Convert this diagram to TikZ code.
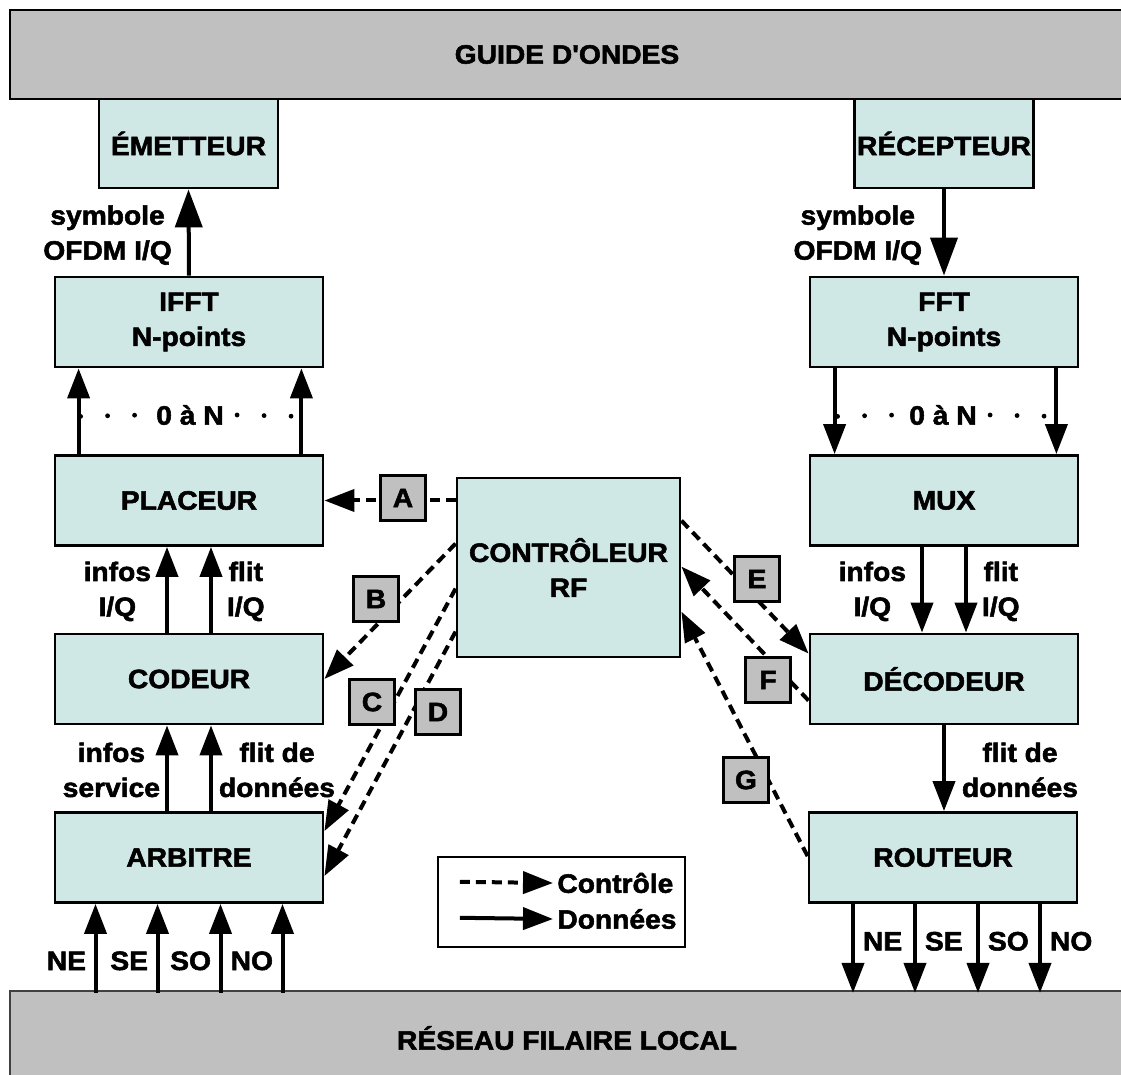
\documentclass[tikz,border=0pt]{standalone}
\usepackage{fontspec}
\setmainfont{Liberation Sans}[Ligatures=TeXOff,BoldFeatures={FakeBold=2,FakeStretch=1.06}]
\usetikzlibrary{arrows.meta,calc}
\definecolor{boite}{HTML}{CFE7E5}
\definecolor{gris}{HTML}{C0C0C0}

\begin{document}
\begin{tikzpicture}[x=0.5pt,y=-0.5pt,
                    font=\bfseries\fontsize{13.3}{17.5}\selectfont]
\useasboundingbox (0,0) rectangle (1121,1075);
\begin{scope}[every node/.style={rectangle,draw=black,line width=1.4pt,fill=boite,
              minimum width=134pt,minimum height=45pt,align=center,inner sep=0pt}]
    \node (guide) [fill=gris,minimum width=557pt,minimum height=44.5pt] at (567,54.5) {GUIDE D'ONDES};
    \node (reseau) [fill=gris,draw=black!75,line width=1pt,minimum width=557pt,minimum height=47pt] at (567,1038) {RÉSEAU FILAIRE LOCAL};
    \node (emet) [minimum width=89.5pt,minimum height=44.5pt] at (188.5,143.5) {ÉMETTEUR};
    \node (recep) [minimum width=89.5pt,minimum height=44.5pt] at (944,143.5) {RÉCEPTEUR};
    \node (ifft) at (189,322) {IFFT\\N-points};
    \node (fft) at (944,322) {FFT\\N-points};
    \node (plac) at (189,500.5) {PLACEUR};
    \node (mux) at (944,500.5) {MUX};
    \node (ctrl) [minimum width=111.5pt,minimum height=89.5pt] at (568.5,567.5) {CONTRÔLEUR\\RF};
    \node (cod) at (189,679) {CODEUR};
    \node (dec) at (944,679) {DÉCODEUR};
    \node (arb) at (189,857.5) {ARBITRE};
    \node (rout) at (943,857.5) {ROUTEUR};
    \node (leg) [fill=white,line width=1.2pt,minimum width=123.5pt] at (561.5,902) {};
\end{scope}
\begin{scope}[>={Triangle[length=15pt,width=11pt]},
              every node/.style={align=center,inner sep=0pt},
              every edge/.style={draw=black,line width=2pt},
              grosse/.style={line width=4.5pt,-{Triangle[length=19pt,width=13.5pt]}},
              ctrlline/.style={dash pattern=on 5pt off 3pt},
              pointille/.style={line width=2.4pt,line cap=round,dash pattern=on 0pt off 13.5pt}]
    % voie montante (émission)
    \path [grosse] (ifft.north) edge node[pos=0.47,left=7.5pt] {symbole\\OFDM I/Q} (emet.south);
    \path [->] ($(plac.north west)+(25,0)$) edge ($(ifft.south west)+(25,0)$);
    \path [->] ($(plac.north east)+(-23,0)$) edge ($(ifft.south east)+(-23,0)$);
    \node (zl) [inner sep=6.5pt] at (190,415) {0 à N};
    \draw [pointille] ($(ifft.south west)+(27,48)$) -- (zl.west);
    \draw [pointille] (zl.east) -- ($(ifft.south east)+(-23,48)$);
    \path [->] ($(cod.north)+(-22,0)$) edge node[pos=0.48,left=7pt] {infos\\I/Q} ($(plac.south)+(-22,0)$);
    \path [->] ($(cod.north)+(22,0)$) edge node[pos=0.48,right=7pt] {flit\\I/Q} ($(plac.south)+(22,0)$);
    \path [->] ($(arb.north)+(-22,0)$) edge node[pos=0.48,left=2.5pt] {infos\\service} ($(cod.south)+(-22,0)$);
    \path [->] ($(arb.north)+(22,0)$) edge node[pos=0.48,right=3pt] {flit de\\données} ($(cod.south)+(22,0)$);
    \foreach \dx/\nom in {-93.5/NE,-31.5/SE,31.5/SO,93.5/NO}
        \path [->] ($(arb.south)+(\dx,89)$) edge node[pos=0.36,left=3.75pt] {\nom} ($(arb.south)+(\dx,0)$);
    % voie descendante (réception)
    \path [grosse] (recep.south) edge node[pos=0.53,left=10pt] {symbole\\OFDM I/Q} (fft.north);
    \path [->] ($(fft.south west)+(26,0)$) edge ($(mux.north west)+(26,0)$);
    \path [->] ($(fft.south east)+(-23,0)$) edge ($(mux.north east)+(-23,0)$);
    \node (zr) [inner sep=6.5pt] at (943,415) {0 à N};
    \draw [pointille] ($(fft.south west)+(29,48)$) -- (zr.west);
    \draw [pointille] (zr.east) -- ($(fft.south east)+(-23,48)$);
    \path [->] ($(mux.south)+(-22,0)$) edge node[pos=0.52,left=7pt] {infos\\I/Q} ($(dec.north)+(-22,0)$);
    \path [->] ($(mux.south)+(22,0)$) edge node[pos=0.52,right=7pt] {flit\\I/Q} ($(dec.north)+(22,0)$);
    \path [->] (dec.south) edge node[pos=0.52,right=8pt] {flit de\\données} (dec.south |- rout.north);
    \foreach \dx/\nom in {-90/NE,-28/SE,35/SO,97/NO}
        \path [->] ($(rout.south)+(\dx,0)$) edge node[pos=0.42,right=4pt] {\nom} ($(rout.south)+(\dx,89)$);
    % contrôle
    \path [->] (ctrl.west |- plac.east) edge[ctrlline] (plac.east);
    \path [->] ($(ctrl.north west)+(0,67)$) edge[ctrlline] (cod.east);
    \path [->] ($(ctrl.north west)+(0,112)$) edge[ctrlline] ($(arb.north east)+(0,20)$);
    \path [->] ($(ctrl.north west)+(0,155)$) edge[ctrlline] ($(arb.north east)+(0,65)$);
    \path [->] ($(ctrl.north east)+(0,44)$) edge[ctrlline] ($(dec.north west)+(0,21)$);
    \path [->] ($(dec.north west)+(0,68)$) edge[ctrlline] ($(ctrl.north east)+(0,90)$);
    \path [->] ($(rout.north west)+(0,45)$) edge[ctrlline] ($(ctrl.north east)+(0,135)$);
    % légende
    \node (lc) [anchor=west,inner sep=2pt] at (553,883) {Contrôle};
    \node (ld) [anchor=west,inner sep=2pt] at (553,919) {Données};
    \coordinate (lc0) at ($(leg.north west)+(23,26)$);
    \coordinate (ld0) at ($(leg.north west)+(23,62)$);
    \path [->] (lc0) edge[ctrlline] (lc.west);
    \path [->] (ld0) edge (ld.west);
\end{scope}
\begin{scope}[every node/.style={rectangle,draw=black,line width=1.3pt,fill=gris,
              minimum size=22.5pt,inner sep=0pt}]
    \node (A) at (403,498) {A};
    \node (B) at (376,599) {B};
    \node (C) at (372,702) {C};
    \node (D) at (438,712) {D};
    \node (E) at (757,579) {E};
    \node (F) at (768,680) {F};
    \node (G) at (746,780) {G};
\end{scope}
\end{tikzpicture}
\end{document}
